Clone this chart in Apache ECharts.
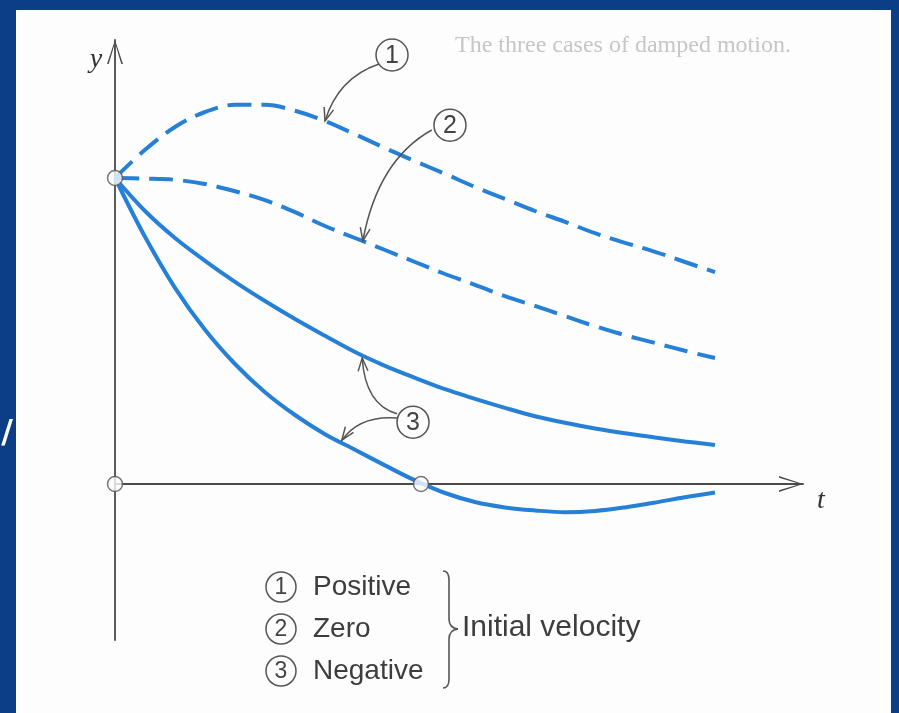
<!DOCTYPE html>
<html>
<head>
<meta charset="utf-8">
<script src="https://cdn.jsdelivr.net/npm/echarts@6/dist/echarts.min.js"></script>
<style>
  html, body { margin: 0; padding: 0; width: 899px; height: 713px; overflow: hidden; background: #0b3e86; }
  #paper { position: absolute; left: 16px; top: 10px; width: 875px; height: 703px; background: #fdfdfd; }
  #chart { position: absolute; left: 0; top: 0; width: 899px; height: 713px; }
</style>
</head>
<body>
<div id="paper"></div>
<div id="chart"></div>
<script>
// Time samples shared by every curve
const tValues = [0, 0.5, 1, 1.5, 2, 2.5, 3, 3.5, 4, 4.5, 5, 5.5, 6, 6.5, 7, 7.5, 8, 8.5, 9, 9.5, 10];

// (1) positive initial velocity: rises first, then decays
const positiveVelocity = [5.10, 5.57, 5.95, 6.20, 6.32, 6.32, 6.22, 6.05, 5.83, 5.60, 5.38,
                          5.17, 4.95, 4.75, 4.55, 4.37, 4.18, 4.02, 3.87, 3.70, 3.53];
// (2) zero initial velocity: starts flat
const zeroVelocity = [5.10, 5.09, 5.07, 5.00, 4.88, 4.73, 4.53, 4.30, 4.10, 3.90, 3.70,
                      3.50, 3.32, 3.13, 2.97, 2.80, 2.63, 2.48, 2.35, 2.22, 2.10];
// (3) negative initial velocity, moderate: stays above equilibrium
const negativeSlow = [5.10, 4.55, 4.10, 3.72, 3.37, 3.05, 2.75, 2.47, 2.20, 1.97, 1.77,
                      1.58, 1.42, 1.27, 1.13, 1.02, 0.925, 0.845, 0.775, 0.71, 0.65];
// (3) negative initial velocity, large: passes through equilibrium once
const negativeFast = [5.10, 4.12, 3.27, 2.57, 2.00, 1.53, 1.15, 0.83, 0.57, 0.31, 0.06,
                      -0.15, -0.30, -0.39, -0.44, -0.47, -0.45, -0.39, -0.31, -0.22, -0.14];
// Hollow markers: starting displacement, origin, crossing of equilibrium
const markerPoints = [[0, 5.10], [0, 0], [5.1, 0]];

// Legend wording
const legendNumbers = ['1', '2', '3'];
const legendNames = ['Positive', 'Zero', 'Negative'];
const legendGroup = 'Initial velocity';

const BLUE = '#2580d6';
const INK = '#4a4a4a';
const chevron = 'path://M8,0 L16,24 L14.3,24 L8,3 L1.7,24 L0,24 Z';

const pair = arr => tValues.map((t, i) => [t, arr[i]]);

const chart = echarts.init(document.getElementById('chart'), null, { renderer: 'canvas' });

const lineSeries = (name, arr, dashed) => ({
  name, type: 'line', data: pair(arr), smooth: 0.35, showSymbol: false, symbol: 'none',
  lineStyle: { color: BLUE, width: 4, type: dashed ? [24, 10] : 'solid', cap: 'butt' },
  z: 3, silent: true
});

chart.setOption({
  animation: false,
  backgroundColor: 'transparent',
  grid: { left: 115, top: 40, width: 688, height: 600 },
  xAxis: {
    type: 'value', min: 0, max: 11.4667,
    axisLine: { onZero: true, lineStyle: { color: INK, width: 1.8 },
                symbol: ['none', chevron], symbolSize: [16, 24], symbolOffset: [0, -12] },
    axisTick: { show: false }, axisLabel: { show: false }, splitLine: { show: false }
  },
  yAxis: {
    type: 'value', min: -2.6, max: 7.4,
    axisLine: { onZero: true, lineStyle: { color: INK, width: 1.8 },
                symbol: ['none', chevron], symbolSize: [16, 24], symbolOffset: [0, -12] },
    axisTick: { show: false }, axisLabel: { show: false }, splitLine: { show: false }
  },
  series: [
    lineSeries('Positive', positiveVelocity, true),
    lineSeries('Zero', zeroVelocity, true),
    lineSeries('Negative (slow)', negativeSlow, false),
    lineSeries('Negative (fast)', negativeFast, false),
    {
      type: 'scatter', data: markerPoints, symbol: 'circle', symbolSize: 15, z: 5, silent: true,
      itemStyle: { color: '#fbfbfb', borderColor: '#555', borderWidth: 1.5 }
    }
  ]
});

// Callouts: circled number with curved pointers (anchors in data units)
const callouts = [
  { label: '1', center: [4.617, 7.15],
    arrows: [[[4.40, 7.00], [3.72, 6.77], [3.50, 6.05]]] },
  { label: '2', center: [5.583, 5.98],
    arrows: [[[5.28, 5.90], [4.38, 5.40], [4.13, 4.05]]] },
  { label: '3', center: [4.967, 1.03],
    arrows: [[[4.70, 1.17], [4.17, 1.32], [4.12, 2.10]],
             [[4.70, 1.10], [4.08, 1.15], [3.78, 0.73]]] }
];

const px = p => chart.convertToPixel({ gridIndex: 0 }, p);
const textStyle = (text, font, fill, align, valign) => ({
  text, font, fill, align, verticalAlign: valign, textAlign: align, textVerticalAlign: valign
});
const stroke = w => ({ fill: 'none', stroke: '#555', lineWidth: w });
const g = [];

callouts.forEach(c => {
  const [cx, cy] = px(c.center);
  g.push({ type: 'circle', shape: { cx, cy, r: 16 }, style: { fill: '#fdfdfd', stroke: '#555', lineWidth: 1.5 }, z: 10 });
  g.push({ type: 'text', x: cx, y: cy + 1, style: textStyle(c.label, '25px "Liberation Sans"', '#444', 'center', 'middle'), z: 11 });
  c.arrows.forEach(a => {
    const s = px(a[0]), k = px(a[1]), e = px(a[2]);
    g.push({ type: 'bezierCurve', shape: { x1: s[0], y1: s[1], cpx1: k[0], cpy1: k[1], x2: e[0], y2: e[1] },
             style: stroke(1.5), z: 10 });
    const ang = Math.atan2(e[1] - k[1], e[0] - k[0]);
    const L = 14, h = 0.36;
    const p1 = [e[0] - L * Math.cos(ang - h), e[1] - L * Math.sin(ang - h)];
    const p2 = [e[0] - L * Math.cos(ang + h), e[1] - L * Math.sin(ang + h)];
    g.push({ type: 'polyline', shape: { points: [p1, e, p2] }, style: stroke(1.5), z: 10 });
  });
});

// Axis names
g.push({ type: 'text', x: 96, y: 60, style: textStyle('y', 'italic 28px "Liberation Serif"', '#333', 'center', 'middle'), z: 11 });
g.push({ type: 'text', x: 821, y: 501, style: textStyle('t', 'italic 28px "Liberation Serif"', '#333', 'center', 'middle'), z: 11 });

// Legend block
const legendY = [587, 629, 671];
legendNumbers.forEach((n, i) => {
  g.push({ type: 'circle', shape: { cx: 281, cy: legendY[i], r: 15 }, style: stroke(1.5), z: 10 });
  g.push({ type: 'text', x: 281, y: legendY[i] + 1, style: textStyle(n, '23px "Liberation Sans"', '#444', 'center', 'middle'), z: 11 });
  g.push({ type: 'text', x: 313, y: legendY[i], style: textStyle(legendNames[i], '28px "Liberation Sans"', '#3d3d3d', 'left', 'middle'), z: 11 });
});
// Right-facing curly brace grouping the three entries
const braceParts = [
  { type: 'bezierCurve', shape: { x1: 443, y1: 571, cpx1: 449, cpy1: 571, x2: 449, y2: 580 } },
  { type: 'line', shape: { x1: 449, y1: 580, x2: 449, y2: 619 } },
  { type: 'bezierCurve', shape: { x1: 449, y1: 619, cpx1: 449, cpy1: 628, x2: 458, y2: 629 } },
  { type: 'bezierCurve', shape: { x1: 458, y1: 629, cpx1: 449, cpy1: 630, x2: 449, y2: 639 } },
  { type: 'line', shape: { x1: 449, y1: 639, x2: 449, y2: 679 } },
  { type: 'bezierCurve', shape: { x1: 449, y1: 679, cpx1: 449, cpy1: 688, x2: 443, y2: 688 } }
];
braceParts.forEach(p => g.push(Object.assign(p, { style: stroke(1.6), z: 10 })));
g.push({ type: 'text', x: 462, y: 628, style: textStyle(legendGroup, '30px "Liberation Sans"', '#3d3d3d', 'left', 'middle'), z: 11 });

// Faint heading showing through from the page behind
g.push({ type: 'text', x: 455, y: 46, style: textStyle('The three cases of damped motion.', '24px "Liberation Serif"', '#c6c6c6', 'left', 'middle'), z: 1 });

// White glyph on the frame
g.push({ type: 'text', x: 7, y: 434, style: textStyle('/', 'bold 32px "DejaVu Sans"', '#ffffff', 'center', 'middle'), z: 11 });

chart.setOption({ graphic: { elements: g } });
</script>
</body>
</html>
